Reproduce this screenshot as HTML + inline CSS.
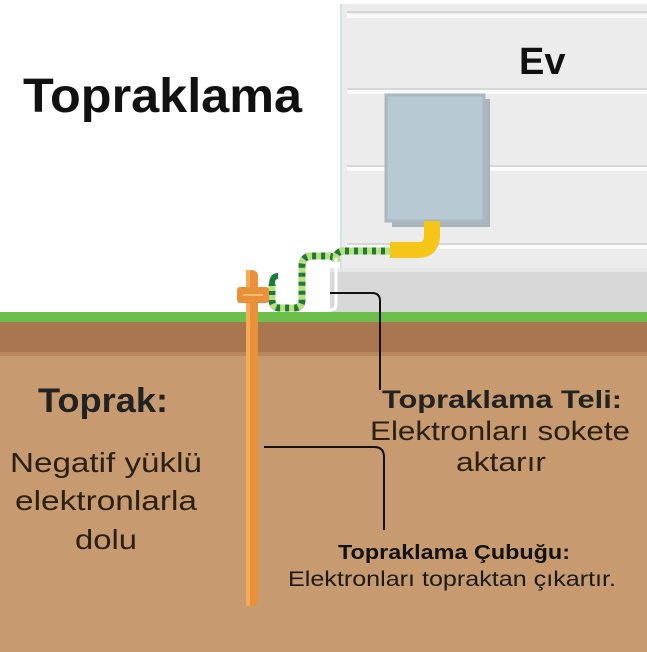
<!DOCTYPE html>
<html><head><meta charset="utf-8"><style>html,body{margin:0;padding:0;background:#fff}svg{display:block}</style></head>
<body>
<svg width="647" height="652" viewBox="0 0 647 652" xmlns="http://www.w3.org/2000/svg" font-family="Liberation Sans, sans-serif">
<rect width="647" height="652" fill="#fff"/>
<!-- house -->
<rect x="341" y="4" width="306" height="310" fill="#ececec"/>
<line x1="341" y1="4" x2="341" y2="314" stroke="#cfe3ea" stroke-width="2"/>
<g fill="#fafafa"><rect x="347" y="14" width="300" height="4"/><rect x="347" y="90" width="300" height="4"/><rect x="347" y="167" width="300" height="4"/><rect x="347" y="245" width="300" height="4"/></g>
<g fill="#d6d6d6"><rect x="347" y="11" width="300" height="2"/><rect x="347" y="88" width="300" height="2"/><rect x="347" y="165" width="300" height="2"/><rect x="347" y="243" width="300" height="2"/></g>
<rect x="330" y="268" width="317" height="46" fill="#d8d8d8"/>
<rect x="330" y="268" width="317" height="4" fill="#e6e6e6"/>
<text x="519" y="74" font-size="38" font-weight="bold" fill="#111">Ev</text>
<!-- panel -->
<rect x="392" y="99" width="98" height="128" fill="#a9b3ba"/>
<rect x="386" y="95" width="98" height="126" fill="#b7c9d3" stroke="#a9b8c2" stroke-width="3"/>
<path d="M432 221 V235 Q432 250 418 250 H390" fill="none" stroke="#f5c518" stroke-width="16"/>
<!-- wire -->
<path d="M390 251 H344 Q336 251 336 259 V262 M336 262 Q336 258 330 256 H312 Q302 256 302 266 V300 Q302 308 294 308 H280 Q272 308 272 300 V284" fill="none" stroke="#1e7a3c" stroke-width="7"/>
<path d="M390 251 H344 Q336 251 336 259 V262 M336 262 Q336 258 330 256 H312 Q302 256 302 266 V300 Q302 308 294 308 H280 Q272 308 272 300 V284" fill="none" stroke="#b9e07a" stroke-width="7" stroke-dasharray="5 4"/>
<path d="M272 284 Q272 276 278 276" fill="none" stroke="#1e7a3c" stroke-width="6"/>
<path d="M336 258 V304 Q336 310 330 310 H310" fill="none" stroke="#fff" stroke-width="3"/>
<!-- ground -->
<rect x="0" y="312" width="647" height="10" fill="#6cbf4a"/>
<rect x="0" y="322" width="647" height="33" fill="#a9764f"/>
<rect x="0" y="355" width="647" height="297" fill="#c79b6f"/>
<rect x="0" y="352" width="647" height="4" fill="#b8875d"/>
<!-- rod -->
<rect x="246" y="270" width="12" height="336" rx="6" fill="#e8913a"/>
<rect x="246" y="270" width="4" height="336" fill="#f5aa55"/>
<rect x="237" y="287" width="32" height="16" rx="3" fill="#e8913a"/>
<rect x="243" y="294" width="20" height="2" fill="#f5b870"/>
<!-- connectors -->
<path d="M330 293 H372 Q380 293 380 301 V390" fill="none" stroke="#111" stroke-width="2"/>
<path d="M264 447 H374 Q384 447 384 457 V530" fill="none" stroke="#111" stroke-width="2"/>
<!-- text -->
<text x="23" y="112" font-size="48" font-weight="bold" fill="#111" textLength="279" lengthAdjust="spacingAndGlyphs">Topraklama</text>
<text x="38" y="412" font-size="34" font-weight="bold" fill="#222" textLength="130" lengthAdjust="spacingAndGlyphs">Toprak:</text>
<g font-size="28" fill="#2b2014" text-anchor="middle">
<text x="106" y="472" textLength="192" lengthAdjust="spacingAndGlyphs">Negatif yüklü</text>
<text x="106" y="510" textLength="182" lengthAdjust="spacingAndGlyphs">elektronlarla</text>
<text x="106" y="549" textLength="62" lengthAdjust="spacingAndGlyphs">dolu</text>
</g>
<text x="382" y="408" font-size="25" font-weight="bold" fill="#222" textLength="240" lengthAdjust="spacingAndGlyphs">Topraklama Teli:</text>
<text x="500" y="440" font-size="27" fill="#2b2014" text-anchor="middle" textLength="260" lengthAdjust="spacingAndGlyphs">Elektronları sokete</text>
<text x="501" y="471" font-size="27" fill="#2b2014" text-anchor="middle" textLength="90" lengthAdjust="spacingAndGlyphs">aktarır</text>
<text x="338" y="559" font-size="20" font-weight="bold" fill="#111" textLength="232" lengthAdjust="spacingAndGlyphs">Topraklama Çubuğu:</text>
<text x="288" y="586" font-size="21" fill="#1a1a1a" textLength="328" lengthAdjust="spacingAndGlyphs">Elektronları topraktan çıkartır.</text>
</svg>
</body></html>
